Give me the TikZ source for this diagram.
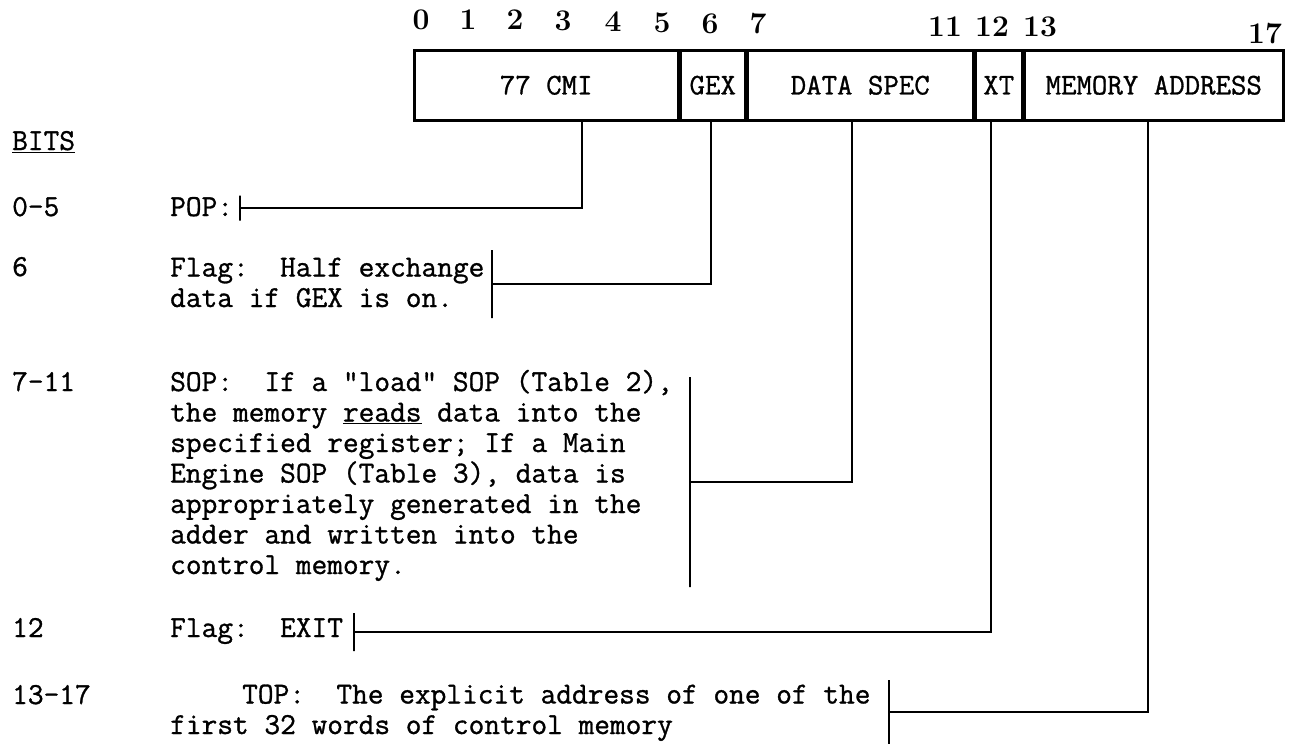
\documentclass[tikz,border=0pt]{standalone}
\usepackage{fontspec}
\newfontfamily\typew[FakeBold=1]{Latin Modern Mono}
\begin{document}
\begin{tikzpicture}[x=1pt,y=-1pt,
  txt/.style={anchor=base west,inner sep=0pt,align=left,
    font=\typew\fontsize{30.5}{30.5}\selectfont},
  num/.style={anchor=base,inner sep=0pt,
    font=\rmfamily\bfseries\fontsize{30}{30}\selectfont},
  field/.style={draw,line width=2.5pt,anchor=north west,inner sep=0pt,
    minimum height=70,font=\typew\fontsize{30}{30}\selectfont},
  bar/.style={draw,line width=2.5pt,inner sep=0pt,minimum width=0pt,
    minimum height=#1},
  wire/.style={line width=2.5pt}]
  \useasboundingbox (0,0) rectangle (1298,744);

  % instruction word
  \node[field,minimum width=264] (cmi) at (413,49) {77 CMI};
  \node[field,minimum width=64] (gex) at (cmi.north east) {GEX};
  \node[field,minimum width=226] (spec) at (gex.north east) {DATA SPEC};
  \node[field,minimum width=46] (xt) at (spec.north east) {XT};
  \node[field,minimum width=259] (addr) at (xt.north east) {MEMORY ADDRESS};

  % bit numbers
  \node[num] (b0) at (421,29) {0};
  \node[num] (b1) at (468,29) {1};
  \node[num] (b2) at (515,29) {2};
  \node[num] (b3) at (563,30) {3};
  \node[num] (b4) at (613,31) {4};
  \node[num] (b5) at (662,32) {5};
  \node[num] (b6) at (710,33) {6};
  \node[num] (b7) at (758,33) {7};
  \node[num] (b11) at (945,36) {11};
  \node[num] (b12) at (992,36) {12};
  \node[num] (b13) at (1040,36) {13};
  \node[num] (b17) at (1265,43) {17};

  % taps under the fields
  \coordinate (tcmi) at (582,119);
  \coordinate (tgex) at (711,119);
  \coordinate (tspec) at (852,119);
  \coordinate (txt) at (991,119);
  \coordinate (taddr) at (1148,119);

  % left column
  \node[txt] (bits) at (12,150) {\underline{BITS}};
  \node[txt] (r0) at (12,216) {0-5};
  \node[txt] (r6) at (12,276) {6};
  \node[txt] (r7) at (12,391) {7-11};
  \node[txt] (r12) at (12,637) {12};
  \node[txt] (r13) at (12,704) {13-17};

  % descriptions (base = last line)
  \node[txt] (pop) at (170,216) {POP:};
  \node[txt] (flag) at (170,307) {Flag:~~Half exchange\\data if GEX is on.};
  \node[txt] (sop) at (170,574) {SOP:~~If a "load" SOP (Table 2),\\
    the memory \underline{reads} data into the\\
    specified register; If a Main\\
    Engine SOP (Table 3), data is\\
    appropriately generated in the\\
    adder and written into the\\
    control memory.};
  \node[txt] (exit) at (170,637) {Flag:~~EXIT};
  \node[txt] (top) at (170,734) {\hspace*{72pt}TOP:~~The explicit address of one of the\\
    first 32 words of control memory};

  % brackets
  \node[bar=25] (popbar) at (240,208) {};
  \node[bar=68] (flagbar) at (492,284) {};
  \node[bar=210] (sopbar) at (690,482) {};
  \node[bar=38] (exitbar) at (354,632) {};
  \node[bar=64] (topbar) at (889,712) {};

  \draw[wire] (popbar) -| (tcmi);
  \draw[wire] (flagbar) -| (tgex);
  \draw[wire] (sopbar) -| (tspec);
  \draw[wire] (exitbar) -| (txt);
  \draw[wire] (topbar) -| (taddr);
\end{tikzpicture}
\end{document}
